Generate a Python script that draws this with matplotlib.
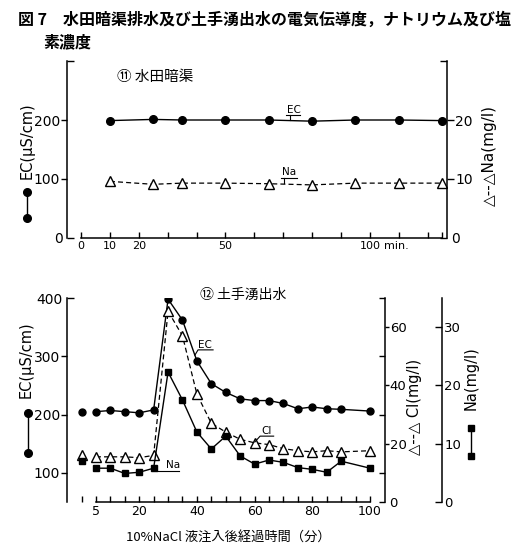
import matplotlib
matplotlib.use("Agg")
import matplotlib.pyplot as plt
from matplotlib.lines import Line2D
from matplotlib.ticker import FixedLocator, FixedFormatter

plt.rcParams['font.family'] = ['DejaVu Sans', 'Noto Sans CJK JP']
CJK = ['Noto Sans CJK JP', 'DejaVu Sans']

# (11) 水田暗渠
t_drain = [10, 25, 35, 50, 65, 80, 95, 110, 125]
ec_drain = [199, 201, 200, 200, 200, 198, 200, 200, 199]
na_drain = [9.6, 9.1, 9.3, 9.3, 9.2, 9.0, 9.3, 9.3, 9.3]

# (12) 土手湧出水
t_seep = [0, 5, 10, 15, 20, 25, 30, 35, 40, 45, 50, 55, 60, 65, 70, 75, 80, 85, 90, 100]
ec_seep = [205, 205, 207, 205, 203, 208, 398, 362, 292, 253, 238, 227, 224, 224, 219,
           210, 213, 210, 209, 206]
cl_seep = [16, 15.5, 15.5, 15.5, 15.2, 16, 65.5, 57, 37, 27, 24, 21.5, 20.3, 19.7, 18.3,
           17.6, 17.2, 17.6, 17.2, 17.6]
na_seep = [7.0, 5.8, 5.8, 4.9, 5.1, 5.8, 22.3, 17.5, 12.0, 9.1, 11.3, 7.9, 6.5, 7.2, 6.8,
           5.9, 5.6, 5.1, 7.0, 5.8]

top_xticks = [0, 10, 20, 30, 40, 50, 60, 70, 80, 90, 100, 110, 120, 125]
top_xlabels = ['0', '10', '20', '', '', '50', '', '', '', '', '100', '', '', '']
bot_xticks = [0] + list(range(5, 101, 5))
bot_xlabels = ['' if t not in (5, 20, 40, 60, 80, 100) else str(t) for t in bot_xticks]

W, H = 514, 558
fig = plt.figure(figsize=(W / 100, H / 100), dpi=100)


def fx(x):
    return x / W


def fy(y):
    return 1 - y / H


def box(l, t, r, b):
    return [fx(l), fy(b), (r - l) / W, (b - t) / H]


def yticks(ax, major, minor, minor_labels, mdir, mlen, mpad, nlen, npad, size=10):
    ax.yaxis.set_major_locator(FixedLocator(major))
    ax.yaxis.set_minor_locator(FixedLocator(minor))
    ax.yaxis.set_minor_formatter(FixedFormatter(minor_labels))
    ax.tick_params(axis='y', which='major', direction=mdir, length=mlen, width=1,
                   pad=mpad, labelsize=size)
    ax.tick_params(axis='y', which='minor', direction='in', length=nlen, width=1,
                   pad=npad, labelsize=size)


def only_spine(ax, keep):
    for s in ['left', 'right', 'top', 'bottom']:
        ax.spines[s].set_visible(s in keep)
        ax.spines[s].set_linewidth(1.1)


# title
fig.text(fx(18), fy(20), '図 7　水田暗渠排水及び土手湧出水の電気伝導度，ナトリウム及び塩',
         family=CJK, fontsize=11.5, fontweight='bold', ha='left', va='center')
fig.text(fx(43), fy(42), '素濃度', family=CJK, fontsize=11.5, fontweight='bold',
         ha='left', va='center')

# ---------- top panel ----------
ax1 = fig.add_axes(box(67, 61, 447, 238))
ax1.set_xlim(-4.85, 126.7)
ax1.set_ylim(0, 300)
only_spine(ax1, ['left', 'bottom'])
ax1.spines['bottom'].set_bounds(0, 125)
ax1.set_xticks(top_xticks)
ax1.set_xticklabels(top_xlabels)
ax1.tick_params(axis='x', direction='in', length=4, width=1, pad=2, labelsize=8)
yticks(ax1, [100, 200], [0, 300], ['0', ''], 'out', 4, 1, 5, 3)
ax1.annotate('min.', xy=(100, 0), xycoords=('data', 'axes fraction'),
             xytext=(10, -2), textcoords='offset points', ha='left', va='top', fontsize=8)

ax1.plot(t_drain, ec_drain, color='k', lw=1.0, marker='o', ms=5.5)

ax1n = ax1.twinx()
ax1n.set_ylim(0, 30)
only_spine(ax1n, ['right'])
yticks(ax1n, [10, 20], [0, 30], ['0', ''], 'out', 5, 1, 5, 3)
ax1n.plot(t_drain, na_drain, color='k', lw=0.9, ls='--', dashes=(4, 2.5),
          marker='^', ms=6.5, mfc='white', mec='k', mew=1)

# labels on the lines
ax1.text(71.3, 209, 'EC', fontsize=7.5, ha='left', va='bottom')
ax1.plot([71.0, 75.8], [208, 208], color='k', lw=0.8)
ax1.plot([72.4, 72.4], [208, 200], color='k', lw=0.8)
ax1n.text(69.6, 10.3, 'Na', fontsize=7.5, ha='left', va='bottom')
ax1n.plot([69.4, 74.8], [10.2, 10.2], color='k', lw=0.8)
ax1n.plot([70.3, 70.3], [10.2, 9.3], color='k', lw=0.8)

fig.text(fx(117), fy(77), '⑪ 水田暗渠', family=CJK, fontsize=10.5, ha='left', va='center')
fig.text(fx(27), fy(141), 'EC(μS/cm)', fontsize=10.5, rotation=90, ha='center', va='center')
fig.add_artist(Line2D([fx(27), fx(27)], [fy(192), fy(218)], transform=fig.transFigure,
                      color='k', lw=1, marker='o', ms=5.5))
fig.text(fx(489), fy(155), '△--△Na(mg/l)', fontsize=11, rotation=90,
         ha='center', va='center')

# ---------- bottom panel ----------
ax2 = fig.add_axes(box(67, 298, 385, 502))
ax2.set_xlim(-5.03, 105.2)
ax2.set_ylim(50, 400)
only_spine(ax2, ['left', 'bottom'])
ax2.spines['bottom'].set_bounds(5, 100)
ax2.set_xticks(bot_xticks)
ax2.set_xticklabels(bot_xlabels)
ax2.tick_params(axis='x', direction='in', length=4, width=1, pad=2, labelsize=9)
yticks(ax2, [100, 200, 300], [400], ['400'], 'out', 4, 1, 5, 3)

ax2.plot(t_seep[1:], ec_seep[1:], color='k', lw=1.0, marker='o', ms=5)
ax2.plot(t_seep[:1], ec_seep[:1], color='k', ls='none', marker='o', ms=5)

ax2c = ax2.twinx()
ax2c.set_ylim(0, 70)
only_spine(ax2c, ['right'])
yticks(ax2c, [20, 40, 60], [0, 10, 30, 50, 70], ['0', '', '', '', ''], 'out', 3, 0.5, 4, 3,
       size=9.5)
ax2c.plot(t_seep[1:], cl_seep[1:], color='k', lw=0.9, ls='--', dashes=(4, 2.5),
          marker='^', ms=6.5, mfc='white', mec='k', mew=1)
ax2c.plot(t_seep[:1], cl_seep[:1], ls='none', marker='^', ms=6.5, mfc='white',
          mec='k', mew=1)

ax2n = ax2.twinx()
ax2n.set_ylim(0, 35)
only_spine(ax2n, ['right'])
ax2n.spines['right'].set_position(('axes', (442 - 67) / (385 - 67)))
yticks(ax2n, [0, 10, 20, 30], [], [], 'in', 5, 1.5, 5, 3, size=9.5)
ax2n.plot(t_seep[1:], na_seep[1:], color='k', lw=1.0, marker='s', ms=4.5)
ax2n.plot(t_seep[:1], na_seep[:1], color='k', ls='none', marker='s', ms=4.5)

ax2.text(40.4, 311, 'EC', fontsize=7.5, ha='left', va='bottom')
ax2.plot([39.3, 40.4, 45.6], [302, 311, 311], color='k', lw=0.8)
ax2c.text(62.5, 22.8, 'Cl', fontsize=7.5, ha='left', va='bottom')
ax2c.plot([60.1, 61.9, 66.6], [20.6, 22.6, 22.6], color='k', lw=0.8)
ax2n.text(29.3, 5.5, 'Na', fontsize=7.5, ha='left', va='bottom')
ax2n.plot([26.2, 33.8], [5.3, 5.3], color='k', lw=0.8)

fig.text(fx(200), fy(295), '⑫ 土手湧出水', family=CJK, fontsize=10, ha='left', va='center')
fig.text(fx(26), fy(360), 'EC(μS/cm)', fontsize=10.5, rotation=90, ha='center', va='center')
fig.add_artist(Line2D([fx(28), fx(28)], [fy(413), fy(453)], transform=fig.transFigure,
                      color='k', lw=1, marker='o', ms=5.5))
fig.text(fx(415), fy(407), '△--△ Cl(mg/l)', fontsize=10.5, rotation=90,
         ha='center', va='center')
fig.text(fx(471), fy(378), 'Na(mg/l)', fontsize=10.5, rotation=90, ha='center', va='center')
fig.add_artist(Line2D([fx(471), fx(471)], [fy(428), fy(456)], transform=fig.transFigure,
                      color='k', lw=1, marker='s', ms=5))

fig.text(fx(228), fy(537), '10%NaCl 液注入後経過時間（分）', family=CJK, fontsize=9.5,
         ha='center', va='center')

fig.savefig('out.png', dpi=100)
